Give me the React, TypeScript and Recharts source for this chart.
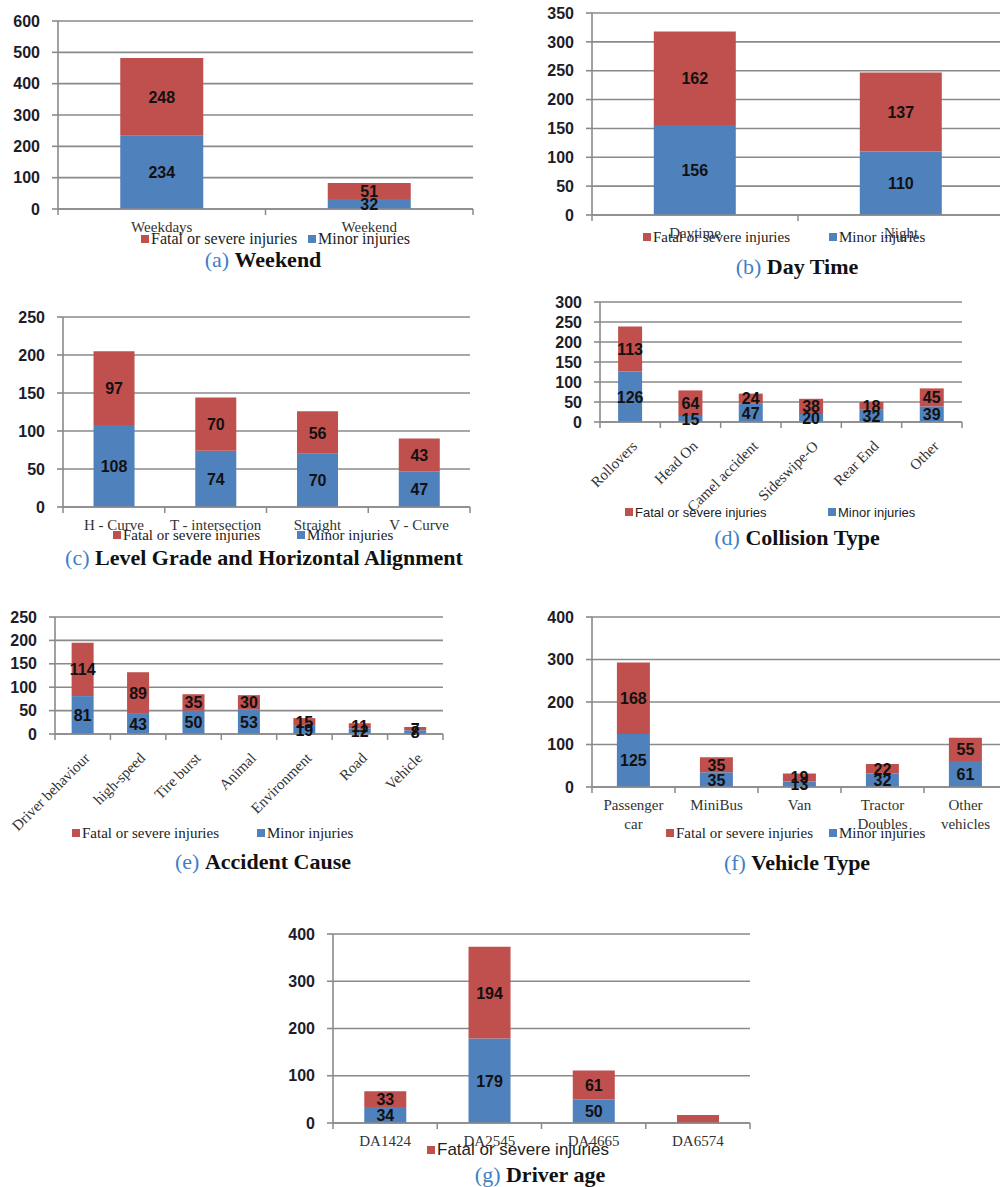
import React from 'react';
import { BarChart, Bar, XAxis, YAxis, CartesianGrid, LabelList } from 'recharts';

const RED = '#C0504D';
const BLUE = '#4F81BD';
const GRID = '#8a8a8a';
const TITLE_BLUE = '#3d7fc8';

const FATAL_NAME = 'Fatal or severe injuries';
const MINOR_NAME = 'Minor injuries';

// (a) Weekend
const weekendCats = ['Weekdays', 'Weekend'];
const weekendMinor = [234, 32];
const weekendFatal = [248, 51];
const weekendTicks = [0, 100, 200, 300, 400, 500, 600];

// (b) Day Time
const dayCats = ['Daytime', 'Night'];
const dayMinor = [156, 110];
const dayFatal = [162, 137];
const dayTicks = [0, 50, 100, 150, 200, 250, 300, 350];

// (c) Level Grade and Horizontal Alignment
const gradeCats = ['H - Curve', 'T - intersection', 'Straight', 'V - Curve'];
const gradeMinor = [108, 74, 70, 47];
const gradeFatal = [97, 70, 56, 43];
const gradeTicks = [0, 50, 100, 150, 200, 250];

// (d) Collision Type
const collCats = ['Rollovers', 'Head On', 'Camel accident', 'Sideswipe-O', 'Rear End', 'Other'];
const collMinor = [126, 15, 47, 20, 32, 39];
const collFatal = [113, 64, 24, 38, 18, 45];
const collTicks = [0, 50, 100, 150, 200, 250, 300];

// (e) Accident Cause
const causeCats = ['Driver behaviour', 'high-speed', 'Tire burst', 'Animal', 'Environment', 'Road', 'Vehicle'];
const causeMinor = [81, 43, 50, 53, 19, 12, 8];
const causeFatal = [114, 89, 35, 30, 15, 11, 7];
const causeTicks = [0, 50, 100, 150, 200, 250];

// (f) Vehicle Type
const vehCats = ['Passenger car', 'MiniBus', 'Van', 'Tractor Doubles', 'Other vehicles'];
const vehMinor = [125, 35, 13, 32, 61];
const vehFatal = [168, 35, 19, 22, 55];
const vehTicks = [0, 100, 200, 300, 400];

// (g) Driver age
const ageCats = ['DA1424', 'DA2545', 'DA4665', 'DA6574'];
const ageMinor = [34, 179, 50, 0];
const ageFatal = [33, 194, 61, 17];
const ageTicks = [0, 100, 200, 300, 400];
const ageHiddenLabels = [3];

type LegendItem = { name: string; color: string; x: number };
type PanelCfg = {
  cats: string[];
  minor: number[];
  fatal: number[];
  ticks: number[];
  plot: { x: number; y: number; w: number; h: number };
  tickMode: 'normal' | 'rot' | 'wrap';
  legend: { y: number; font: string; size: number; items: LegendItem[] };
  title: { letter: string; text: string; cx: number; y: number };
  hidden?: number[];
};

const SERIF = '"Liberation Serif", "Times New Roman", serif';
const SANS = '"Liberation Sans", Arial, sans-serif';

const panels: PanelCfg[] = [
  {
    cats: weekendCats, minor: weekendMinor, fatal: weekendFatal, ticks: weekendTicks,
    plot: { x: 58, y: 21, w: 415, h: 188 }, tickMode: 'normal',
    legend: { y: 239, font: SERIF, size: 16, items: [{ name: FATAL_NAME, color: RED, x: 141 }, { name: MINOR_NAME, color: BLUE, x: 308 }] },
    title: { letter: 'a', text: 'Weekend', cx: 263, y: 260 },
  },
  {
    cats: dayCats, minor: dayMinor, fatal: dayFatal, ticks: dayTicks,
    plot: { x: 592, y: 13, w: 412, h: 202 }, tickMode: 'normal',
    legend: { y: 237, font: SERIF, size: 15, items: [{ name: FATAL_NAME, color: RED, x: 643 }, { name: MINOR_NAME, color: BLUE, x: 829 }] },
    title: { letter: 'b', text: 'Day Time', cx: 797, y: 267 },
  },
  {
    cats: gradeCats, minor: gradeMinor, fatal: gradeFatal, ticks: gradeTicks,
    plot: { x: 63, y: 317, w: 407, h: 190 }, tickMode: 'normal',
    legend: { y: 535, font: SERIF, size: 15, items: [{ name: FATAL_NAME, color: RED, x: 113 }, { name: MINOR_NAME, color: BLUE, x: 297 }] },
    title: { letter: 'c', text: 'Level Grade and Horizontal Alignment', cx: 264, y: 558 },
  },
  {
    cats: collCats, minor: collMinor, fatal: collFatal, ticks: collTicks,
    plot: { x: 600, y: 302, w: 362, h: 120 }, tickMode: 'rot',
    legend: { y: 512, font: SANS, size: 13, items: [{ name: FATAL_NAME, color: RED, x: 625 }, { name: MINOR_NAME, color: BLUE, x: 828 }] },
    title: { letter: 'd', text: 'Collision Type', cx: 797, y: 538 },
  },
  {
    cats: causeCats, minor: causeMinor, fatal: causeFatal, ticks: causeTicks,
    plot: { x: 55, y: 617, w: 388, h: 117 }, tickMode: 'rot',
    legend: { y: 833, font: SERIF, size: 15, items: [{ name: FATAL_NAME, color: RED, x: 72 }, { name: MINOR_NAME, color: BLUE, x: 257 }] },
    title: { letter: 'e', text: 'Accident Cause', cx: 263, y: 862 },
  },
  {
    cats: vehCats, minor: vehMinor, fatal: vehFatal, ticks: vehTicks,
    plot: { x: 592, y: 617, w: 415, h: 170 }, tickMode: 'wrap',
    legend: { y: 833, font: SERIF, size: 15, items: [{ name: FATAL_NAME, color: RED, x: 666 }, { name: MINOR_NAME, color: BLUE, x: 829 }] },
    title: { letter: 'f', text: 'Vehicle Type', cx: 797, y: 863 },
  },
  {
    cats: ageCats, minor: ageMinor, fatal: ageFatal, ticks: ageTicks,
    plot: { x: 333, y: 934, w: 417, h: 189 }, tickMode: 'normal',
    legend: { y: 1150, font: SANS, size: 17, items: [{ name: FATAL_NAME, color: RED, x: 427 }] },
    title: { letter: 'g', text: 'Driver age', cx: 540, y: 1175 },
    hidden: ageHiddenLabels,
  },
];

const Y_AXIS_W = 60;
const TOP_M = 10;
const X_AXIS_H = 110;

function makeXTick(cfg: PanelCfg) {
  const n = cfg.cats.length;
  const step = cfg.plot.w / n;
  return (props: any) => {
    const x = Number(props.x);
    const y = Number(props.y);
    const idx = props.index as number;
    const label = String(props.payload?.value ?? '');
    const lines: React.ReactNode[] = [];
    lines.push(<line key="l" x1={x - step / 2} x2={x - step / 2} y1={y} y2={y + 6} stroke={GRID} strokeWidth={1.5} />);
    if (idx === n - 1) {
      lines.push(<line key="r" x1={x + step / 2} x2={x + step / 2} y1={y} y2={y + 6} stroke={GRID} strokeWidth={1.5} />);
    }
    let text: React.ReactNode;
    if (cfg.tickMode === 'rot') {
      const tx = x + 8;
      const ty = y + 25;
      text = (
        <text x={tx} y={ty} transform={`rotate(-45, ${tx}, ${ty})`} textAnchor="end" fontFamily={SERIF} fontSize={15} fill="#333">
          {label}
        </text>
      );
    } else if (cfg.tickMode === 'wrap') {
      const parts = label.split(' ');
      text = (
        <text x={x} y={y + 23} textAnchor="middle" fontFamily={SERIF} fontSize={15} fill="#333">
          {parts.map((p, i) => (
            <tspan key={i} x={x} dy={i === 0 ? 0 : 19}>{p}</tspan>
          ))}
        </text>
      );
    } else {
      text = (
        <text x={x} y={y + 23} textAnchor="middle" fontFamily={SERIF} fontSize={15} fill="#333">
          {label}
        </text>
      );
    }
    return (
      <g>
        {lines}
        {text}
      </g>
    );
  };
}

function makeLabel(hidden: number[]) {
  return (props: any) => {
    const { x, y, width, height, value, index } = props;
    if (hidden.includes(index)) return null;
    const cx = Number(x) + Number(width) / 2;
    const cy = Number(y) + Number(height) / 2;
    return (
      <text x={cx} y={cy} dy={6} textAnchor="middle" fontFamily={SANS} fontWeight="bold" fontSize={16} fill="#111">
        {value}
      </text>
    );
  };
}

function Panel({ cfg }: { cfg: PanelCfg }) {
  const data = cfg.cats.map((c, i) => ({ cat: c, minor: cfg.minor[i], fatal: cfg.fatal[i] }));
  const left = cfg.plot.x - Y_AXIS_W;
  const top = cfg.plot.y - TOP_M;
  const width = Y_AXIS_W + cfg.plot.w + 10;
  const height = TOP_M + cfg.plot.h + X_AXIS_H;
  const yMax = cfg.ticks[cfg.ticks.length - 1];
  const hidden = cfg.hidden ?? [];
  return (
    <div style={{ position: 'absolute', left, top }}>
      <BarChart
        width={width}
        height={height}
        data={data}
        margin={{ top: TOP_M, right: 10, bottom: 0, left: 0 }}
        barCategoryGap="30%"
      >
        <CartesianGrid vertical={false} stroke={GRID} strokeWidth={1.6} />
        <XAxis
          dataKey="cat"
          interval={0}
          height={X_AXIS_H}
          tickLine={false}
          tickSize={0}
          tickMargin={0}
          axisLine={{ stroke: GRID, strokeWidth: 1.6 }}
          tick={makeXTick(cfg)}
        />
        <YAxis
          width={Y_AXIS_W}
          domain={[0, yMax]}
          ticks={cfg.ticks}
          interval={0}
          tickSize={6}
          tickMargin={12}
          axisLine={{ stroke: GRID, strokeWidth: 1.6 }}
          tickLine={{ stroke: GRID, strokeWidth: 1.6 }}
          tick={{ fill: '#1c1c2a', fontSize: 16, fontFamily: SANS, fontWeight: 'bold' }}
        />
        <Bar dataKey="minor" name={MINOR_NAME} stackId="s" fill={BLUE} isAnimationActive={false}>
          <LabelList dataKey="minor" content={makeLabel(hidden)} />
        </Bar>
        <Bar dataKey="fatal" name={FATAL_NAME} stackId="s" fill={RED} isAnimationActive={false}>
          <LabelList dataKey="fatal" content={makeLabel(hidden)} />
        </Bar>
      </BarChart>
    </div>
  );
}

function Legend2({ cfg }: { cfg: PanelCfg }) {
  return (
    <>
      {cfg.legend.items.map((it) => (
        <div
          key={it.name}
          style={{
            position: 'absolute', left: it.x, top: cfg.legend.y - 10, height: 20,
            display: 'flex', alignItems: 'center', fontFamily: cfg.legend.font,
            fontSize: cfg.legend.size, color: '#222', whiteSpace: 'nowrap',
          }}
        >
          <span style={{ display: 'inline-block', width: 8, height: 8, background: it.color, marginRight: 2 }} />
          {it.name}
        </div>
      ))}
    </>
  );
}

function Title({ cfg }: { cfg: PanelCfg }) {
  return (
    <div
      style={{
        position: 'absolute', left: cfg.title.cx - 300, width: 600, top: cfg.title.y - 14,
        lineHeight: '28px', textAlign: 'center', fontFamily: SERIF, fontSize: 22, whiteSpace: 'nowrap', color: '#111',
      }}
    >
      <span style={{ color: TITLE_BLUE }}>({cfg.title.letter})</span> <b>{cfg.title.text}</b>
    </div>
  );
}

export default function App() {
  return (
    <div style={{ position: 'absolute', left: 0, top: 0, width: 1000, height: 1187, overflow: 'hidden', background: '#fff' }}>
      {panels.map((p, i) => (
        <React.Fragment key={i}>
          <Panel cfg={p} />
          <Legend2 cfg={p} />
          <Title cfg={p} />
        </React.Fragment>
      ))}
    </div>
  );
}
